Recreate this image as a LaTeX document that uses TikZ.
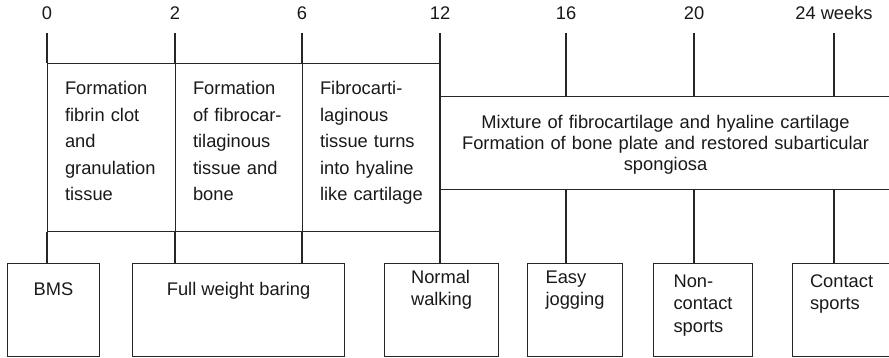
\documentclass[tikz,border=0pt]{standalone}
\usepackage{fontspec}
\setmainfont{Liberation Sans}
\usetikzlibrary{positioning}

\begin{document}
\begin{tikzpicture}[x=1pt,y=-1pt,line width=1.1pt,
week/.style={inner sep=0pt,text=black!90,font=\fontsize{18.3}{22}\selectfont},
phase/.style={rectangle,draw=black!85,text=black!90,anchor=north west,inner xsep=17.5pt,inner ysep=0pt,
minimum height=168pt,align=left,text height=31.3pt,text depth=136.7pt,font=\fontsize{18.3}{26.4}\selectfont},
mixbox/.style={rectangle,draw=black!85,text=black!90,anchor=north west,inner xsep=15pt,inner ysep=0pt,
minimum height=93pt,align=center,text height=31.7pt,text depth=61.3pt,font=\fontsize{18.3}{21.2}\selectfont},
activity/.style={rectangle,draw=black!85,text=black!90,anchor=north west,inner ysep=0pt,
minimum height=93pt,align=left,font=\fontsize{18.3}{22.5}\selectfont},
tick/.style={draw=black!85}]
    \useasboundingbox (0,0) rectangle (889,358);
    % time axis
    \coordinate (t0) at (47,33);
    \coordinate (t2) at (175,33);
    \coordinate (t6) at (302,33);
    \coordinate (t12) at (440,33);
    \coordinate (t16) at (566,33);
    \coordinate (t20) at (694,33);
    \coordinate (t24) at (834,33);
    \node[week,above=12.8pt of t0] (w0) {0};
    \node[week,above=12.8pt of t2] (w2) {2};
    \node[week,above=12.8pt of t6] (w6) {6};
    \node[week,above=12.8pt of t12] (w12) {12};
    \node[week,above=12.8pt of t16] (w16) {16};
    \node[week,above=12.8pt of t20] (w20) {20};
    \node[week,above=12.8pt of t24] (w24) {24 weeks};
    % healing phases
    \node[phase,minimum width=128pt,text width=93pt] (ph1) at (47,63) {Formation\\fibrin clot\\and\\granulation\\tissue};
    \node[phase,minimum width=127pt,text width=92pt] (ph2) at (175,63) {Formation\\of fibrocar-\\tilaginous\\tissue and\\bone};
    \node[phase,minimum width=138pt,text width=103pt] (ph3) at (302,63) {Fibrocarti-\\laginous\\tissue turns\\into hyaline\\like cartilage};
    \node[mixbox,minimum width=450pt,text width=420pt] (mix) at (440,96) {Mixture of fibrocartilage and hyaline cartilage\\Formation of bone plate and restored subarticular\\spongiosa};
    % activities
    \node[activity,minimum width=92pt,text height=32pt,text depth=61pt] (bms) at (7,263) {BMS};
    \node[activity,minimum width=212pt,text height=32pt,text depth=61pt] (fwb) at (132,263) {Full weight baring};
    \node[activity,minimum width=114pt,text height=42pt,text depth=51pt] (walk) at (384,263) {Normal\\walking};
    \node[activity,minimum width=95pt,text height=42pt,text depth=51pt] (jog) at (527,263) {Easy\\jogging};
    \node[activity,minimum width=99pt,text height=68.5pt,text depth=24.5pt] (noncon) at (653,263) {Non-\\contact\\sports};
    \node[activity,minimum width=98pt,text height=46pt,text depth=47pt] (con) at (792,263) {Contact\\sports};
    % ticks
    \draw[tick] (t0) -- (ph1.north west) (ph1.south west) -- (ph1.south west |- bms.north);
    \draw[tick] (t2) -- (ph2.north west) (ph2.south west) -- (ph2.south west |- fwb.north);
    \draw[tick] (t6) -- (ph3.north west) (ph3.south west) -- (ph3.south west |- fwb.north);
    \draw[tick] (t12) -- (t12 |- walk.north);
    \draw[tick] (t16) -- (t16 |- mix.north) (t16 |- mix.south) -- (t16 |- jog.north);
    \draw[tick] (t20) -- (t20 |- mix.north) (t20 |- mix.south) -- (t20 |- noncon.north);
    \draw[tick] (t24) -- (t24 |- mix.north) (t24 |- mix.south) -- (t24 |- con.north);
\end{tikzpicture}
\end{document}
